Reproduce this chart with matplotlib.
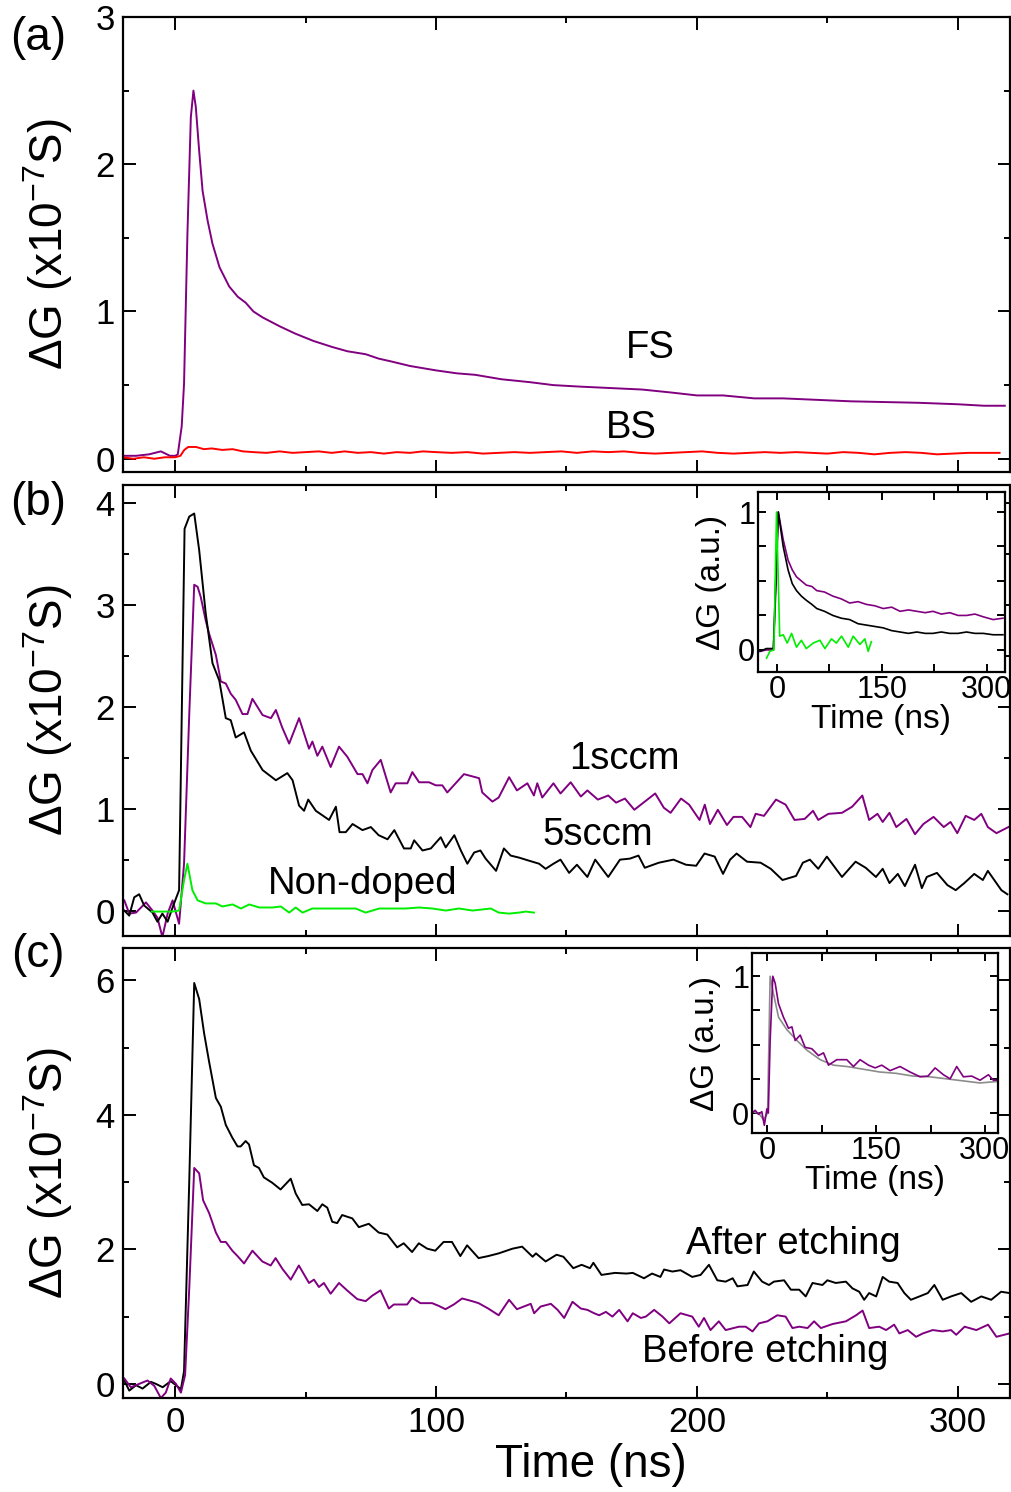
import matplotlib
matplotlib.use("Agg")
import matplotlib.pyplot as plt
from matplotlib.ticker import MultipleLocator, FixedLocator

plt.rcParams["font.family"] = ["Liberation Sans", "DejaVu Sans"]
plt.rcParams["mathtext.default"] = "regular"

PURPLE = "#800080"
RED = "#ff0000"
GREEN = "#00ee00"
GRAY = "#8c8c8c"

# ---- panel (a): FS / BS ----
fs_t = [-20, -15, -10, -5.5, -2, 0, 1, 2.5, 3.4, 4.7, 6, 7, 7.9, 9.2, 10.5, 12.4, 14.3, 17, 20.7,
        24, 27, 30, 33.5, 40, 46, 53, 60, 66, 73, 78, 83, 90, 100, 108, 115, 125, 136, 145, 155,
        167, 179, 190, 200, 210, 222, 233, 246, 259, 272, 285, 300, 310, 318]
fs_y = [0.02, 0.02, 0.03, 0.05, 0.02, 0.02, 0.03, 0.22, 0.51, 1.53, 2.32, 2.5, 2.39, 2.09, 1.82,
        1.62, 1.46, 1.3, 1.17, 1.1, 1.06, 1.0, 0.96, 0.9, 0.85, 0.8, 0.76, 0.73, 0.71, 0.68, 0.66,
        0.63, 0.6, 0.58, 0.57, 0.54, 0.52, 0.5, 0.49, 0.48, 0.47, 0.45, 0.43, 0.43, 0.41, 0.41,
        0.4, 0.39, 0.385, 0.38, 0.37, 0.36, 0.36]
bs_t = [-20, -16, -12, -8, -4, 0, 2, 3.5, 5, 8, 11, 14, 18, 22, 26, 30, 35, 40, 45, 50, 55, 60,
        65, 70, 75, 80, 85, 90, 95, 100, 106, 112, 118, 124, 130, 136, 142, 148, 154, 160, 166,
        172, 178, 184, 190, 196, 202, 208, 214, 220, 226, 232, 238, 244, 250, 256, 262, 268, 274,
        280, 286, 292, 298, 304, 310, 316]
bs_y = [0.01, 0.0, 0.01, 0.0, 0.01, 0.01, 0.02, 0.06, 0.08, 0.08, 0.065, 0.07, 0.06, 0.065, 0.05,
        0.045, 0.04, 0.05, 0.04, 0.045, 0.05, 0.04, 0.05, 0.04, 0.045, 0.035, 0.045, 0.04, 0.05,
        0.045, 0.04, 0.045, 0.035, 0.04, 0.045, 0.04, 0.045, 0.05, 0.04, 0.05, 0.045, 0.05, 0.04,
        0.035, 0.04, 0.045, 0.05, 0.04, 0.035, 0.04, 0.045, 0.04, 0.045, 0.04, 0.035, 0.045, 0.04,
        0.03, 0.04, 0.045, 0.04, 0.03, 0.035, 0.04, 0.04, 0.04]

# ---- panel (b): 1sccm / 5sccm / non-doped ----
s1_t = [-19.5, -17.6, -15, -11.2, -8.7, -6.8, -4.9, -2.9, -1, 1.5, 3.4, 5.4, 7.3, 8.6, 9.8, 11.7,
        13, 15.6, 17.5, 19.4, 21.3, 23.2, 25.8, 27.7, 29.6, 33.5, 36.7, 38.6, 41, 43.7, 47.5, 51.3,
        52.6, 54.5, 56.4, 59.6, 62.8, 66, 69.9, 71.8, 73.7, 75.6, 78.8, 82.6, 84.5, 89, 90.9, 93.5,
        97.3, 99.9, 102.4, 104.3, 107.5, 110.7, 116.5, 117.7, 121.6, 124, 128, 131, 135, 137.5,
        138.8, 140.7, 145, 147.7, 151.6, 155.5, 158, 162, 166, 169, 172.4, 176, 180, 184, 187.3,
        189.9, 193.9, 197, 201, 203, 205, 208, 211.5, 214, 217.3, 220.5, 222.5, 225.7, 230.3, 234,
        237.4, 241.3, 244.5, 246.5, 250.4, 255.6, 259.5, 263.4, 266, 269.2, 271.2, 273.8, 276.4,
        280.3, 283.6, 286.8, 290.7, 294.6, 297.2, 299.8, 303, 306.3, 309, 311.5, 314.8, 319.4]
s1_y = [0.1, -0.03, -0.02, 0.08, 0.0, -0.07, -0.26, -0.03, 0.1, -0.13, 0.46, 1.93, 3.2, 3.18,
        3.08, 2.85, 2.72, 2.51, 2.25, 2.23, 2.13, 2.07, 1.93, 1.93, 2.08, 1.92, 1.89, 1.97, 1.8,
        1.64, 1.89, 1.59, 1.66, 1.52, 1.61, 1.41, 1.61, 1.51, 1.34, 1.34, 1.25, 1.38, 1.48, 1.16,
        1.25, 1.25, 1.36, 1.26, 1.26, 1.23, 1.23, 1.16, 1.25, 1.34, 1.3, 1.16, 1.07, 1.11, 1.31,
        1.18, 1.25, 1.13, 1.25, 1.11, 1.25, 1.15, 1.26, 1.12, 1.18, 1.09, 1.13, 1.06, 1.1, 0.99,
        1.07, 1.15, 1.01, 0.96, 1.1, 1.04, 0.89, 1.04, 0.85, 0.99, 0.84, 0.92, 0.92, 0.82, 0.95,
        0.93, 1.09, 1.04, 0.89, 0.9, 0.98, 0.89, 0.95, 0.96, 1.02, 1.13, 0.89, 0.95, 0.87, 0.96,
        0.82, 0.9, 0.75, 0.85, 0.92, 0.82, 0.87, 0.76, 0.93, 0.89, 0.95, 0.82, 0.76, 0.82]
s5_t = [-19.5, -17.6, -15.7, -13.8, -11.9, -8.7, -6.8, -4.9, -2.9, -1, 1.5, 3.6, 5.4, 7.3, 9.2,
        11.7, 14.3, 16.9, 19.4, 21.3, 23.2, 26.4, 29, 33.5, 38.6, 43, 45, 47.5, 49.4, 51, 53.9, 59,
        61.6, 63, 65.4, 68, 71.8, 75, 78, 81.4, 84, 87.7, 90.3, 91.6, 94.8, 98, 101.8, 103.7, 107,
        109.5, 112, 114.6, 117, 119, 123, 126, 128.6, 131.8, 135.6, 139.5, 142, 145, 147.7, 151,
        154, 158, 161, 166, 170.5, 174.3, 177.6, 180, 185.4, 191, 195.8, 199.7, 202.9, 206.8, 210,
        212.7, 215.2, 219.2, 224.4, 228.3, 232.8, 238, 240.6, 243.3, 246.5, 249.8, 255.6, 260.8,
        264.7, 268.6, 271.2, 273.8, 277, 279.7, 283.6, 286.2, 288.1, 292, 296, 299.2, 302.5, 306.3,
        309.6, 311.5, 316.7, 319]
s5_y = [0.0, -0.05, 0.13, 0.16, 0.05, -0.02, -0.11, -0.03, -0.11, 0.03, 0.2, 3.75, 3.87, 3.9,
        3.54, 2.92, 2.43, 2.26, 1.89, 1.87, 1.7, 1.75, 1.57, 1.38, 1.28, 1.35, 1.28, 1.03, 0.98,
        1.09, 0.98, 0.89, 1.02, 0.77, 0.77, 0.85, 0.79, 0.82, 0.74, 0.7, 0.79, 0.61, 0.61, 0.69,
        0.59, 0.61, 0.72, 0.62, 0.74, 0.59, 0.46, 0.57, 0.59, 0.51, 0.39, 0.61, 0.54, 0.52, 0.49,
        0.46, 0.41, 0.46, 0.5, 0.37, 0.45, 0.33, 0.5, 0.33, 0.5, 0.51, 0.54, 0.42, 0.47, 0.5, 0.45,
        0.44, 0.56, 0.53, 0.36, 0.5, 0.56, 0.48, 0.47, 0.41, 0.3, 0.34, 0.47, 0.5, 0.41, 0.53,
        0.33, 0.48, 0.42, 0.33, 0.41, 0.27, 0.36, 0.24, 0.45, 0.22, 0.33, 0.37, 0.25, 0.2, 0.27,
        0.36, 0.3, 0.39, 0.2, 0.16]
nd_t = [-9, -5, -1, 1.5, 3.4, 4.7, 6.6, 8.6, 11.7, 15.6, 18.1, 22, 25.2, 28.4, 32.2, 37.3, 40.5,
        43.7, 46.2, 48.8, 52.6, 57.7, 62.8, 69.2, 73, 78.2, 83.3, 88.4, 93.5, 98.6, 103.7, 108.8,
        114, 121, 124, 128, 131.8, 134.4, 137.5]
nd_y = [-0.01, -0.01, -0.01, 0.0, 0.3, 0.46, 0.2, 0.1, 0.07, 0.07, 0.04, 0.06, 0.02, 0.06, 0.03,
        0.03, 0.04, -0.02, 0.03, -0.02, 0.02, 0.02, 0.02, 0.02, -0.02, 0.02, 0.02, 0.02, 0.03, 0.02,
        0.0, 0.02, 0.0, 0.02, -0.02, -0.03, -0.02, -0.01, -0.02]

# inset (b), normalised
ib_p_t = [-24, -15, -5, -1, 2, 9, 16, 22, 28, 35, 42, 50, 57, 68, 80, 92, 104, 116, 128, 140, 152,
          164, 176, 188, 200, 212, 223, 235, 247, 259, 271, 283, 295, 309, 323]
ib_p_y = [-0.01, 0.0, 0.0, 0.5, 1.0, 0.8, 0.65, 0.58, 0.53, 0.5, 0.47, 0.46, 0.43, 0.42, 0.39,
          0.37, 0.34, 0.35, 0.33, 0.32, 0.3, 0.31, 0.28, 0.29, 0.28, 0.27, 0.28, 0.26, 0.27, 0.25,
          0.25, 0.26, 0.24, 0.22, 0.23]
ib_k_t = [-24, -15, -5, -1, 2, 9, 16, 22, 28, 35, 42, 50, 57, 68, 80, 92, 104, 116, 128, 140, 152,
          164, 176, 188, 200, 212, 223, 235, 247, 259, 271, 283, 295, 309, 323]
ib_k_y = [-0.01, 0.01, 0.01, 0.6, 1.0, 0.75, 0.58, 0.48, 0.43, 0.39, 0.36, 0.33, 0.3, 0.28, 0.25,
          0.23, 0.22, 0.19, 0.18, 0.17, 0.16, 0.14, 0.13, 0.12, 0.13, 0.12, 0.12, 0.13, 0.12, 0.12,
          0.13, 0.12, 0.12, 0.11, 0.11]
ib_g_t = [-14.8, -10, -4.3, -0.5, 4, 9, 14.8, 21, 28, 35, 42, 52, 61.5, 68.6, 78, 85, 92.4, 102,
          109, 118.6, 125.7, 130.5, 135]
ib_g_y = [-0.06, -0.01, 0.0, 1.0, 0.1, 0.11, 0.05, 0.12, 0.02, 0.07, 0.01, 0.05, 0.07, 0.01, 0.08,
          0.05, 0.1, 0.02, 0.1, 0.04, 0.08, -0.01, 0.06]

# ---- panel (c): after / before etching ----
af_t = [-19.5, -17.6, -15, -12.5, -9.3, -7.4, -4.8, -1.7, 0.3, 2.2, 3.4, 5.4, 7.3, 9.2, 11.1, 13,
        15.6, 17.5, 19.4, 21.9, 23.9, 25.1, 27, 28.3, 30.2, 32.1, 34, 37.2, 40.4, 44.3, 46.2, 48.7,
        51.3, 54.5, 56.4, 58.3, 60.2, 62.1, 64, 67.9, 70.4, 74.2, 78, 81.3, 85.1, 87.6, 90.8, 93.4,
        96.6, 99.7, 102.9, 106.1, 109.3, 111.9, 116.3, 120, 124, 129.3, 133, 137, 138.3, 142, 146.2,
        148.8, 152.6, 155.8, 159, 160.3, 163.4, 168.6, 173, 175.4, 179.7, 182.8, 186, 187.4, 190.6,
        193.7, 198.2, 201.4, 204.6, 207.8, 211, 213.7, 215.5, 219.4, 221.8, 225, 227.6, 229.5, 233.4,
        236, 239.2, 241.7, 244.3, 248.1, 250, 253.2, 257.1, 259.6, 262.2, 264.1, 266, 268.7, 271.2,
        273.7, 276.9, 279.5, 282, 285.3, 288.5, 291, 294.2, 297.4, 301.3, 305.1, 309, 312.8, 316.6,
        319.8]
af_y = [0.05, -0.1, -0.02, -0.07, 0.03, 0.0, -0.05, 0.04, -0.02, -0.08, 0.19, 3.02, 5.96, 5.72,
        5.21, 4.79, 4.25, 4.12, 3.85, 3.66, 3.53, 3.53, 3.61, 3.56, 3.25, 3.21, 3.07, 2.99, 2.89,
        3.05, 2.83, 2.66, 2.67, 2.57, 2.67, 2.62, 2.41, 2.39, 2.51, 2.46, 2.33, 2.38, 2.25, 2.22,
        2.03, 2.09, 1.96, 2.09, 2.01, 1.98, 2.11, 2.11, 1.9, 2.06, 1.87, 1.9, 1.94, 2.01, 2.04, 1.89,
        1.94, 1.82, 1.92, 1.89, 1.72, 1.77, 1.72, 1.8, 1.62, 1.65, 1.64, 1.65, 1.57, 1.64, 1.59, 1.7,
        1.67, 1.69, 1.59, 1.62, 1.77, 1.54, 1.52, 1.57, 1.45, 1.47, 1.67, 1.52, 1.47, 1.52, 1.54,
        1.4, 1.4, 1.3, 1.5, 1.47, 1.54, 1.5, 1.52, 1.42, 1.37, 1.25, 1.35, 1.3, 1.59, 1.52, 1.5,
        1.35, 1.25, 1.3, 1.35, 1.47, 1.25, 1.3, 1.35, 1.22, 1.3, 1.25, 1.37, 1.35]
bf_t = [-19.5, -17, -13.8, -10.6, -8, -5.5, -3.6, -1.7, 0.3, 2.2, 3.8, 5.4, 7.3, 9.2, 10.7, 13,
        15.6, 17.5, 19.4, 21.9, 23.9, 26.4, 29.6, 33.4, 36.6, 38.5, 41.1, 44.3, 47.4, 51.3, 53.2,
        55.1, 57, 59.6, 62.8, 65.9, 69.8, 73, 75.5, 78.7, 81.9, 83.8, 88.9, 90.8, 94, 98.5, 101,
        103.6, 106.8, 110, 113.8, 116.3, 120, 124, 128, 131, 136.3, 137.6, 140.1, 144, 146.6, 149.1,
        152.3, 155.5, 158, 160.6, 162.5, 165.1, 167.6, 170.2, 173.4, 175.4, 178.5, 180.4, 183.6,
        186.8, 189.4, 193.7, 198.2, 200.7, 202.7, 205.2, 208.4, 211, 216.1, 218.7, 221.3, 223.8, 227,
        230.8, 234, 236.6, 239.2, 242.4, 244.9, 247.5, 252, 257.1, 261, 263.5, 266, 269.9, 272.5,
        275.6, 277.6, 280.8, 284, 286.6, 290.4, 294.2, 297.4, 299.4, 302.6, 307.1, 311.6, 314.8,
        319.8]
bf_y = [0.08, -0.05, 0.0, 0.05, -0.03, -0.21, -0.13, 0.08, 0.0, -0.13, 0.13, 1.42, 3.21, 3.13,
        2.73, 2.54, 2.25, 2.11, 2.11, 1.98, 1.9, 1.79, 1.98, 1.82, 1.76, 1.87, 1.71, 1.55, 1.76, 1.5,
        1.55, 1.44, 1.5, 1.34, 1.5, 1.39, 1.26, 1.23, 1.31, 1.39, 1.12, 1.18, 1.18, 1.28, 1.2, 1.2,
        1.16, 1.11, 1.18, 1.27, 1.23, 1.2, 1.12, 1.02, 1.25, 1.11, 1.19, 1.05, 1.15, 1.19, 1.1, 0.98,
        1.22, 1.12, 1.1, 1.05, 1.02, 1.07, 1.0, 1.1, 0.93, 1.05, 0.98, 1.0, 1.1, 1.0, 0.9, 1.05, 1.0,
        0.85, 0.98, 0.8, 0.93, 0.8, 0.85, 0.85, 0.78, 0.9, 0.93, 1.02, 1.0, 0.83, 0.85, 0.83, 0.93,
        0.83, 0.89, 0.93, 1.02, 1.09, 0.83, 0.85, 0.8, 0.88, 0.75, 0.8, 0.7, 0.75, 0.8, 0.78, 0.8,
        0.73, 0.85, 0.8, 0.88, 0.7, 0.75]

# inset (c), normalised
ic_g_t = [-21, -12, -5, 0.5, 4, 8.7, 15.6, 27, 41, 54.5, 73, 91, 110, 132.6, 155, 178, 201, 224,
          247, 270, 293, 316]
ic_g_y = [0.01, 0.0, -0.05, 0.0, 1.0, 0.87, 0.7, 0.61, 0.53, 0.46, 0.39, 0.35, 0.34, 0.32, 0.3,
          0.29, 0.27, 0.265, 0.25, 0.235, 0.22, 0.23]
ic_p_t = [-21, -16.7, -12, -7.5, -4, -0.5, 1.5, 4, 7.7, 10.9, 15.5, 22.4, 29.3, 34, 38.5, 45.4,
          52.2, 61.5, 70.6, 77.5, 84.4, 95.9, 109.6, 118.8, 128, 139.5, 148.7, 157.8, 169.3, 183,
          196.8, 210.6, 221.5, 231.3, 242.8, 252, 261.1, 270.3, 281.8, 293.3, 304.8, 311.6, 318.5]
ic_p_y = [0.0, 0.02, -0.01, 0.01, -0.09, 0.03, 0.0, 0.53, 1.0, 0.95, 0.8, 0.7, 0.62, 0.63, 0.53,
          0.57, 0.48, 0.47, 0.42, 0.44, 0.35, 0.39, 0.39, 0.34, 0.39, 0.35, 0.33, 0.35, 0.31, 0.34,
          0.3, 0.265, 0.27, 0.33, 0.28, 0.25, 0.34, 0.265, 0.27, 0.24, 0.28, 0.24, 0.24]

W, H = 1012, 1492
fig = plt.figure(figsize=(W / 100, H / 100), dpi=100)

LW = 1.4
TICK = 25
LAB = 33
ANN = 27.5


def px_axes(x0, y0, x1, y1):
    # pixel box (top-left origin) -> figure fraction
    return fig.add_axes([x0 / W, 1 - y1 / H, (x1 - x0) / W, (y1 - y0) / H])


def style(ax, fs, major_len=9, minor_len=4.5, pad=6):
    for s in ax.spines.values():
        s.set_linewidth(1.6)
    ax.tick_params(which="both", direction="in", top=True, right=True, width=1.4, labelsize=fs, pad=pad)
    ax.tick_params(which="major", length=major_len)
    ax.tick_params(which="minor", length=minor_len)


axa = px_axes(123, 17, 1010, 472)
axb = px_axes(123, 485, 1010, 936)
axc = px_axes(123, 948, 1010, 1398)

for ax in (axa, axb, axc):
    ax.set_xlim(-20, 320)
    ax.xaxis.set_major_locator(MultipleLocator(100))
    ax.xaxis.set_minor_locator(MultipleLocator(50))
    style(ax, TICK)
    ax.set_ylabel("ΔG (x10$^{-7}$S)", fontsize=LAB)
    ax.yaxis.set_label_coords(-0.054, 0.5)

axa.plot(fs_t, fs_y, color=PURPLE, lw=LW)
axa.plot(bs_t, bs_y, color=RED, lw=LW)
axa.set_ylim(-0.09, 3.0)
axa.yaxis.set_major_locator(MultipleLocator(1))
axa.yaxis.set_minor_locator(MultipleLocator(0.5))
axa.tick_params(labelbottom=False)
axa.text(182, 0.75, "FS", fontsize=ANN, ha="center", va="center")
axa.text(175, 0.21, "BS", fontsize=ANN, ha="center", va="center")

axb.plot(s1_t, s1_y, color=PURPLE, lw=LW)
axb.plot(s5_t, s5_y, color="black", lw=LW)
axb.plot(nd_t, nd_y, color=GREEN, lw=LW)
axb.set_ylim(-0.25, 4.18)
axb.yaxis.set_major_locator(MultipleLocator(1))
axb.yaxis.set_minor_locator(MultipleLocator(0.5))
axb.tick_params(labelbottom=False)
axb.text(172, 1.49, "1sccm", fontsize=ANN, ha="center", va="center")
axb.text(162, 0.74, "5sccm", fontsize=ANN, ha="center", va="center")
axb.text(72, 0.26, "Non-doped", fontsize=ANN, ha="center", va="center")

axc.plot(af_t, af_y, color="black", lw=LW)
axc.plot(bf_t, bf_y, color=PURPLE, lw=LW)
axc.set_ylim(-0.21, 6.48)
axc.yaxis.set_major_locator(MultipleLocator(2))
axc.yaxis.set_minor_locator(MultipleLocator(1))
axc.text(237, 2.08, "After etching", fontsize=ANN, ha="center", va="center")
axc.text(226, 0.47, "Before etching", fontsize=ANN, ha="center", va="center")
axc.set_xlabel("Time (ns)", fontsize=LAB)
axc.xaxis.set_label_coords(0.527, -0.1)

# insets
insb = px_axes(758, 492, 1005, 672)
insc = px_axes(752, 953, 998, 1133)
insb.plot(ib_p_t, ib_p_y, color=PURPLE, lw=1.2)
insb.plot(ib_k_t, ib_k_y, color="black", lw=1.2)
insb.plot(ib_g_t, ib_g_y, color=GREEN, lw=1.2)
insb.set_xlim(-27, 326)
insb.set_ylim(-0.16, 1.145)
insc.plot(ic_g_t, ic_g_y, color=GRAY, lw=1.2)
insc.plot(ic_p_t, ic_p_y, color=PURPLE, lw=1.2)
insc.set_xlim(-21, 318)
insc.set_ylim(-0.146, 1.17)

for ins in (insb, insc):
    style(ins, 22, major_len=6, minor_len=6, pad=2)
    ins.xaxis.set_major_locator(FixedLocator([0, 150, 300]))
    ins.xaxis.set_minor_locator(FixedLocator([75, 225]))
    ins.yaxis.set_major_locator(FixedLocator([0, 1]))
    ins.yaxis.set_minor_locator(FixedLocator([0.25, 0.5, 0.75]))
    ins.set_xlabel("Time (ns)", fontsize=24)
    ins.set_ylabel("ΔG (a.u.)", fontsize=24)
    ins.xaxis.set_label_coords(0.5, -0.18)
    ins.yaxis.set_label_coords(-0.125, 0.5)

fig.text(38 / W, 1 - 38 / H, "(a)", fontsize=LAB, ha="center", va="center")
fig.text(38 / W, 1 - 503 / H, "(b)", fontsize=LAB, ha="center", va="center")
fig.text(38 / W, 1 - 955 / H, "(c)", fontsize=LAB, ha="center", va="center")

fig.savefig("out.png", dpi=100)
